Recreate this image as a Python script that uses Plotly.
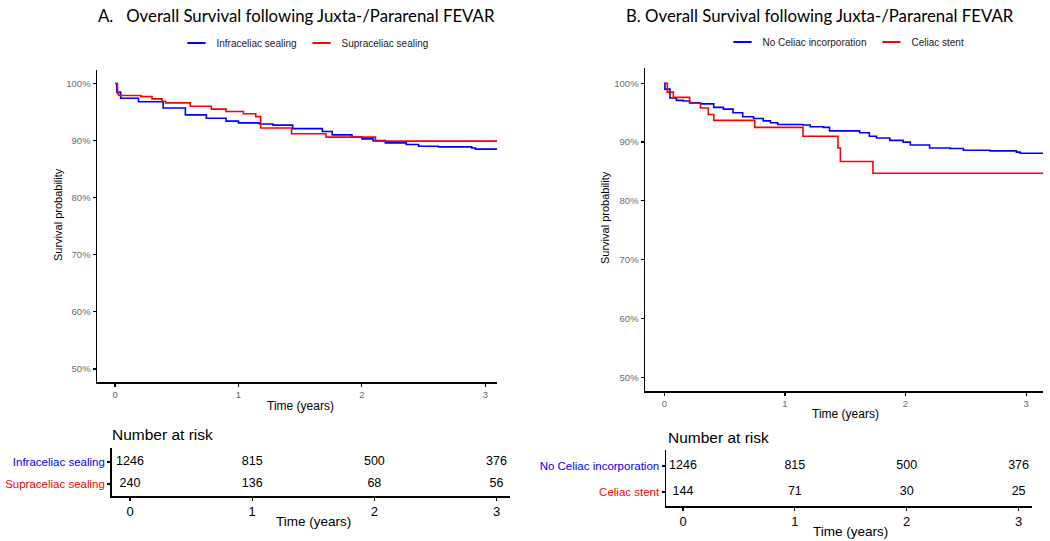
import plotly.graph_objects as go

# ---------------- Data ----------------
# Panel A: Kaplan-Meier
a_infra_t = [0, 0.014, 0.046, 0.19, 0.39, 0.57, 0.74, 0.90, 1.0, 1.17, 1.28, 1.44, 1.63, 1.68, 1.76, 1.92, 2.0, 2.09, 2.19, 2.36, 2.46, 2.62, 2.89, 2.92, 3.11]
a_infra_s = [100, 98.5, 97.4, 96.8, 95.7, 94.5, 93.9, 93.4, 93.1, 92.9, 92.7, 92.1, 92.1, 91.6, 91.0, 90.6, 90.3, 90.0, 89.6, 89.3, 89.0, 88.9, 88.7, 88.5, 88.5]
a_supra_t = [0, 0.02, 0.03, 0.21, 0.30, 0.38, 0.41, 0.61, 0.78, 0.90, 1.04, 1.14, 1.18, 1.43, 1.71, 2.11, 3.11]
a_supra_s = [100, 98.2, 97.9, 97.7, 97.3, 96.9, 96.6, 96.0, 95.5, 95.1, 94.7, 94.2, 92.2, 91.2, 90.6, 89.9, 89.9]

# Panel B
b_noce_t = [0, 0.005, 0.047, 0.10, 0.157, 0.21, 0.30, 0.41, 0.49, 0.57, 0.65, 0.74, 0.82, 0.88, 0.94, 1.15, 1.21, 1.32, 1.37, 1.57, 1.62, 1.70, 1.76, 1.87, 1.98, 2.04, 2.15, 2.20, 2.37, 2.48, 2.70, 2.92, 2.95, 3.14]
b_noce_s = [100, 99.0, 97.5, 97.1, 97.0, 96.7, 96.5, 95.9, 95.6, 95.0, 94.3, 94.0, 93.6, 93.3, 93.0, 92.9, 92.6, 92.5, 91.9, 91.9, 91.6, 91.0, 90.7, 90.3, 90.0, 89.5, 89.5, 89.0, 88.9, 88.6, 88.5, 88.3, 88.1, 88.1]
b_stent_t = [0, 0.025, 0.075, 0.21, 0.30, 0.365, 0.41, 0.75, 1.15, 1.44, 1.46, 1.73, 3.14]
b_stent_s = [100, 98.5, 97.6, 96.6, 95.8, 94.7, 93.7, 92.5, 91.0, 89.0, 86.7, 84.7, 84.7]

risk_times = [0, 1, 2, 3]
a_risk_infra = [1246, 815, 500, 376]
a_risk_supra = [240, 136, 68, 56]
b_risk_noce = [1246, 815, 500, 376]
b_risk_stent = [144, 71, 30, 25]

y_ticks = [50, 60, 70, 80, 90, 100]
y_ticktext = ["50%", "60%", "70%", "80%", "90%", "100%"]

BLUE = "#0000FF"
RED = "#FF0000"
FONT = "Liberation Sans"
W, H = 1050, 541

def px(x):
    return x / W

def py(y):
    return 1 - y / H

fig = go.Figure()

def curve(t, s, color, xa, ya):
    return go.Scatter(x=t, y=s, mode="lines", line=dict(color=color, width=1.6, shape="hv"),
                      xaxis=xa, yaxis=ya, showlegend=False, hoverinfo="skip")

def legend_entry(name, color, xa, ya, leg):
    return go.Scatter(x=[None], y=[None], mode="markers", name=name,
                      marker=dict(symbol="line-ew", size=13, color=color, line=dict(color=color, width=2)),
                      xaxis=xa, yaxis=ya, legend=leg, showlegend=True)

# Main curves
fig.add_trace(curve(a_infra_t, a_infra_s, BLUE, "x", "y"))
fig.add_trace(curve(a_supra_t, a_supra_s, RED, "x", "y"))
fig.add_trace(curve(b_noce_t, b_noce_s, BLUE, "x2", "y2"))
fig.add_trace(curve(b_stent_t, b_stent_s, RED, "x2", "y2"))
fig.add_trace(legend_entry("Infraceliac sealing", BLUE, "x", "y", "legend"))
fig.add_trace(legend_entry("Supraceliac sealing", RED, "x", "y", "legend"))
fig.add_trace(legend_entry("No Celiac incorporation", BLUE, "x2", "y2", "legend2"))
fig.add_trace(legend_entry("Celiac stent", RED, "x2", "y2", "legend2"))

# Risk tables
tf = dict(family=FONT, size=12.5, color="black")
fig.add_trace(go.Scatter(x=risk_times, y=[1] * 4, text=[str(v) for v in a_risk_infra], mode="text",
                         textfont=tf, xaxis="x3", yaxis="y3", showlegend=False))
fig.add_trace(go.Scatter(x=risk_times, y=[0] * 4, text=[str(v) for v in a_risk_supra], mode="text",
                         textfont=tf, xaxis="x3", yaxis="y3", showlegend=False))
fig.add_trace(go.Scatter(x=risk_times, y=[1] * 4, text=[str(v) for v in b_risk_noce], mode="text",
                         textfont=tf, xaxis="x4", yaxis="y4", showlegend=False))
fig.add_trace(go.Scatter(x=risk_times, y=[0] * 4, text=[str(v) for v in b_risk_stent], mode="text",
                         textfont=tf, xaxis="x4", yaxis="y4", showlegend=False))

axis_common = dict(showline=True, linecolor="black", linewidth=1.5, ticks="outside", ticklen=3,
                   tickcolor="black", tickwidth=1.2, showgrid=False, zeroline=False, fixedrange=True)
main_tick_font = dict(family=FONT, size=9.5, color="#6b6b6b")
table_tick_font = dict(family=FONT, size=13, color="black")

fig.update_layout(
    width=W, height=H, margin=dict(l=0, r=0, t=0, b=0),
    paper_bgcolor="white", plot_bgcolor="white",
    font=dict(family=FONT),
    xaxis=dict(domain=[px(97), px(497)], range=[-0.146, 3.095], anchor="y",
               tickvals=risk_times, tickfont=main_tick_font, **axis_common),
    yaxis=dict(domain=[py(382), py(70)], range=[47.72, 102.36], anchor="x",
               tickvals=y_ticks, ticktext=y_ticktext, tickfont=main_tick_font, **axis_common),
    xaxis2=dict(domain=[px(645), px(1043)], range=[-0.16, 3.14], anchor="y2",
                tickvals=risk_times, tickfont=main_tick_font, **axis_common),
    yaxis2=dict(domain=[py(391), py(68)], range=[47.67, 102.6], anchor="x2",
                tickvals=y_ticks, ticktext=y_ticktext, tickfont=main_tick_font, **axis_common),
    xaxis3=dict(domain=[px(111.7), px(510)], range=[-0.15, 3.11], anchor="y3",
                tickvals=risk_times, tickfont=table_tick_font, **axis_common),
    yaxis3=dict(domain=[py(496), py(448)], range=[-0.546, 1.637], anchor="x3",
                tickvals=[1, 0],
                ticktext=["<span style='color:#0000FF'>Infraceliac sealing</span>",
                          "<span style='color:#FF0000'>Supraceliac sealing</span>"],
                tickfont=dict(family=FONT, size=11.5, color="black"), **axis_common),
    xaxis4=dict(domain=[px(666), px(1032)], range=[-0.152, 3.12], anchor="y4",
                tickvals=risk_times, tickfont=table_tick_font, **axis_common),
    yaxis4=dict(domain=[py(506), py(450)], range=[-0.539, 1.616], anchor="x4",
                tickvals=[1, 0],
                ticktext=["<span style='color:#0000FF'>No Celiac incorporation</span>",
                          "<span style='color:#FF0000'>Celiac stent</span>"],
                tickfont=dict(family=FONT, size=11.5, color="black"), **axis_common),
    legend=dict(orientation="h", x=px(305), xanchor="center", y=py(43), yanchor="middle",
                font=dict(family=FONT, size=10, color="#222222"), itemwidth=30, bgcolor="rgba(0,0,0,0)"),
    legend2=dict(orientation="h", x=px(846), xanchor="center", y=py(42), yanchor="middle",
                 font=dict(family=FONT, size=10, color="#222222"), itemwidth=30, bgcolor="rgba(0,0,0,0)"),
    showlegend=True,
)

ann = []
title_font = dict(family="Lato", size=16.8, color="black")
ann.append(dict(text="A.   Overall Survival following Juxta-/Pararenal FEVAR", x=px(96), y=py(15),
                xanchor="left", yanchor="middle", font=title_font))
ann.append(dict(text="B. Overall Survival following Juxta-/Pararenal FEVAR", x=px(624), y=py(15),
                xanchor="left", yanchor="middle", font=title_font))
lab_font = dict(family=FONT, size=12, color="black")
ann.append(dict(text="Time (years)", x=px(300), y=py(406), xanchor="center", yanchor="middle", font=lab_font))
ann.append(dict(text="Time (years)", x=px(845), y=py(414), xanchor="center", yanchor="middle", font=lab_font))
ylab_font = dict(family=FONT, size=11, color="black")
ann.append(dict(text="Survival probability", x=px(58), y=py(215), xanchor="center", yanchor="middle",
                textangle=-90, font=ylab_font))
ann.append(dict(text="Survival probability", x=px(605), y=py(218), xanchor="center", yanchor="middle",
                textangle=-90, font=ylab_font))
tab_font = dict(family=FONT, size=13.5, color="black")
ann.append(dict(text="Time (years)", x=px(313), y=py(521), xanchor="center", yanchor="middle", font=tab_font))
ann.append(dict(text="Time (years)", x=px(850), y=py(531), xanchor="center", yanchor="middle", font=tab_font))
nr_font = dict(family=FONT, size=15.5, color="black")
ann.append(dict(text="Number at risk", x=px(110), y=py(434), xanchor="left", yanchor="middle", font=nr_font))
ann.append(dict(text="Number at risk", x=px(666), y=py(437), xanchor="left", yanchor="middle", font=nr_font))
for a in ann:
    a.update(xref="paper", yref="paper", showarrow=False)
fig.update_layout(annotations=ann)

fig.write_html("out.html", config={"displayModeBar": False, "staticPlot": True},
               post_script="document.body.style.margin='0';document.body.style.overflow='hidden';")
